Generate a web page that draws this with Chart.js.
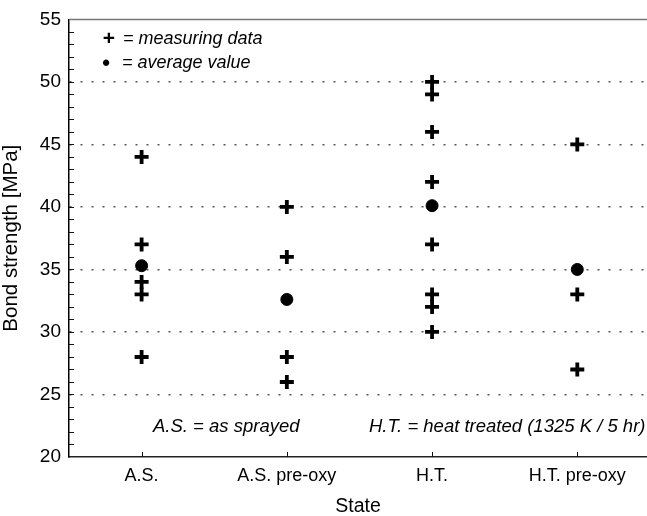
<!DOCTYPE html>
<html>
<head>
<meta charset="utf-8">
<script src="https://cdn.jsdelivr.net/npm/chart.js@4.4.1/dist/chart.umd.min.js"></script>
<style>
  html, body { margin: 0; padding: 0; background: #fff; }
  #wrap { width: 647px; height: 516px; }
</style>
</head>
<body>
<div id="wrap"><canvas id="bondChart" width="647" height="516"></canvas></div>
<script>
// states along the x axis
const categories = ['A.S.', 'A.S. pre-oxy', 'H.T.', 'H.T. pre-oxy'];

// single measurements per state [MPa]
const asSprayed = [44, 37, 34, 33, 28];
const asPreOxy = [40, 36, 28, 26];
const heatTreated = [50, 49, 46, 42, 37, 33, 32, 30];
const htPreOxy = [45, 33, 27];

// mean value per state [MPa]
const averages = [35.3, 32.6, 40.1, 35.0];

// y axis range and labelled steps
const yMin = 20;
const yMax = 55;
const yStep = 5;

const measured = [asSprayed, asPreOxy, heatTreated, htPreOxy];
const measurePoints = [];
measured.forEach((vals, i) => {
  vals.forEach(v => measurePoints.push({ x: i + 1, y: v }));
});
const averagePoints = averages.map((v, i) => ({ x: i + 1, y: v }));

const FONT = "'Liberation Sans', Arial, sans-serif";

// inward tick marks, top frame line and the note texts
const framePlugin = {
  id: 'frame',
  afterDraw(chart) {
    const ctx = chart.ctx;
    const area = chart.chartArea;
    const xs = chart.scales.x;
    const ys = chart.scales.y;
    ctx.save();

    ctx.strokeStyle = '#777';
    ctx.lineWidth = 1.5;
    ctx.beginPath();
    ctx.moveTo(area.left, area.top);
    ctx.lineTo(area.right, area.top);
    ctx.stroke();

    ctx.strokeStyle = '#111';
    ctx.lineWidth = 1;
    ctx.beginPath();
    for (let v = yMin + 1; v < yMax; v++) {
      const py = Math.round(ys.getPixelForValue(v)) + 0.5;
      ctx.moveTo(area.left, py);
      ctx.lineTo(area.left + 5, py);
    }
    for (let i = 1; i <= categories.length; i++) {
      const px = Math.round(xs.getPixelForValue(i)) + 0.5;
      ctx.moveTo(px, area.bottom);
      ctx.lineTo(px, area.bottom - 5);
    }
    ctx.stroke();

    ctx.fillStyle = '#000';
    ctx.textBaseline = 'alphabetic';
    ctx.textAlign = 'center';
    ctx.font = 'bold 21px ' + FONT;
    ctx.fillText('+', 109, 45);
    ctx.font = 'bold 22px ' + FONT;
    ctx.fillText('\u2022', 106, 70);
    ctx.textAlign = 'left';
    ctx.font = 'italic 18px ' + FONT;
    ctx.fillText('= measuring data', 123, 44);
    ctx.fillText('= average value', 122, 68);
    ctx.font = 'italic 18.5px ' + FONT;
    ctx.fillText('A.S. = as sprayed', 153, 432);
    ctx.fillText('H.T. = heat treated (1325 K / 5 hr)', 369, 432);
    ctx.restore();
  }
};

new Chart(document.getElementById('bondChart'), {
  type: 'scatter',
  data: {
    datasets: [
      {
        label: 'measuring data',
        data: measurePoints,
        pointStyle: 'cross',
        pointRadius: 7,
        pointBorderWidth: 3.8,
        borderColor: '#000',
        backgroundColor: '#000'
      },
      {
        label: 'average value',
        data: averagePoints,
        pointStyle: 'circle',
        pointRadius: 6,
        pointBorderWidth: 1,
        borderColor: '#000',
        backgroundColor: '#000'
      }
    ]
  },
  options: {
    responsive: false,
    animation: false,
    layout: { autoPadding: false, padding: { top: 18, right: 0, left: 0, bottom: 0 } },
    plugins: {
      legend: { display: false },
      tooltip: { enabled: false }
    },
    scales: {
      x: {
        type: 'linear',
        min: 0.5,
        max: 4.48,
        afterBuildTicks(scale) {
          scale.ticks = categories.map((c, i) => ({ value: i + 1 }));
        },
        afterFit(scale) { scale.height = 59; },
        ticks: {
          callback: v => categories[v - 1] || '',
          color: '#000',
          font: { family: FONT, size: 18 },
          padding: 8,
          maxRotation: 0
        },
        grid: { display: true, drawOnChartArea: false, drawTicks: false },
        border: { color: '#222', width: 1.5 },
        title: {
          display: true,
          text: 'State',
          color: '#000',
          font: { family: FONT, size: 19.5, lineHeight: 1 },
          padding: { top: 0, bottom: 0 }
        }
      },
      y: {
        min: yMin,
        max: yMax,
        afterFit(scale) { scale.width = 69; },
        ticks: {
          stepSize: yStep,
          color: '#000',
          font: { family: FONT, size: 19 },
          padding: 8
        },
        grid: {
          drawTicks: false,
          lineWidth: 1.5,
          color: ctx => (ctx.tick && ctx.tick.value > yMin && ctx.tick.value < yMax) ? '#555' : 'rgba(0,0,0,0)'
        },
        border: { color: '#000', width: 1.5, dash: [2, 9] },
        title: {
          display: true,
          text: 'Bond strength [MPa]',
          color: '#000',
          font: { family: FONT, size: 20.5, lineHeight: 1 },
          padding: { top: 1, bottom: 0 }
        }
      }
    }
  },
  plugins: [framePlugin]
});
</script>
</body>
</html>
